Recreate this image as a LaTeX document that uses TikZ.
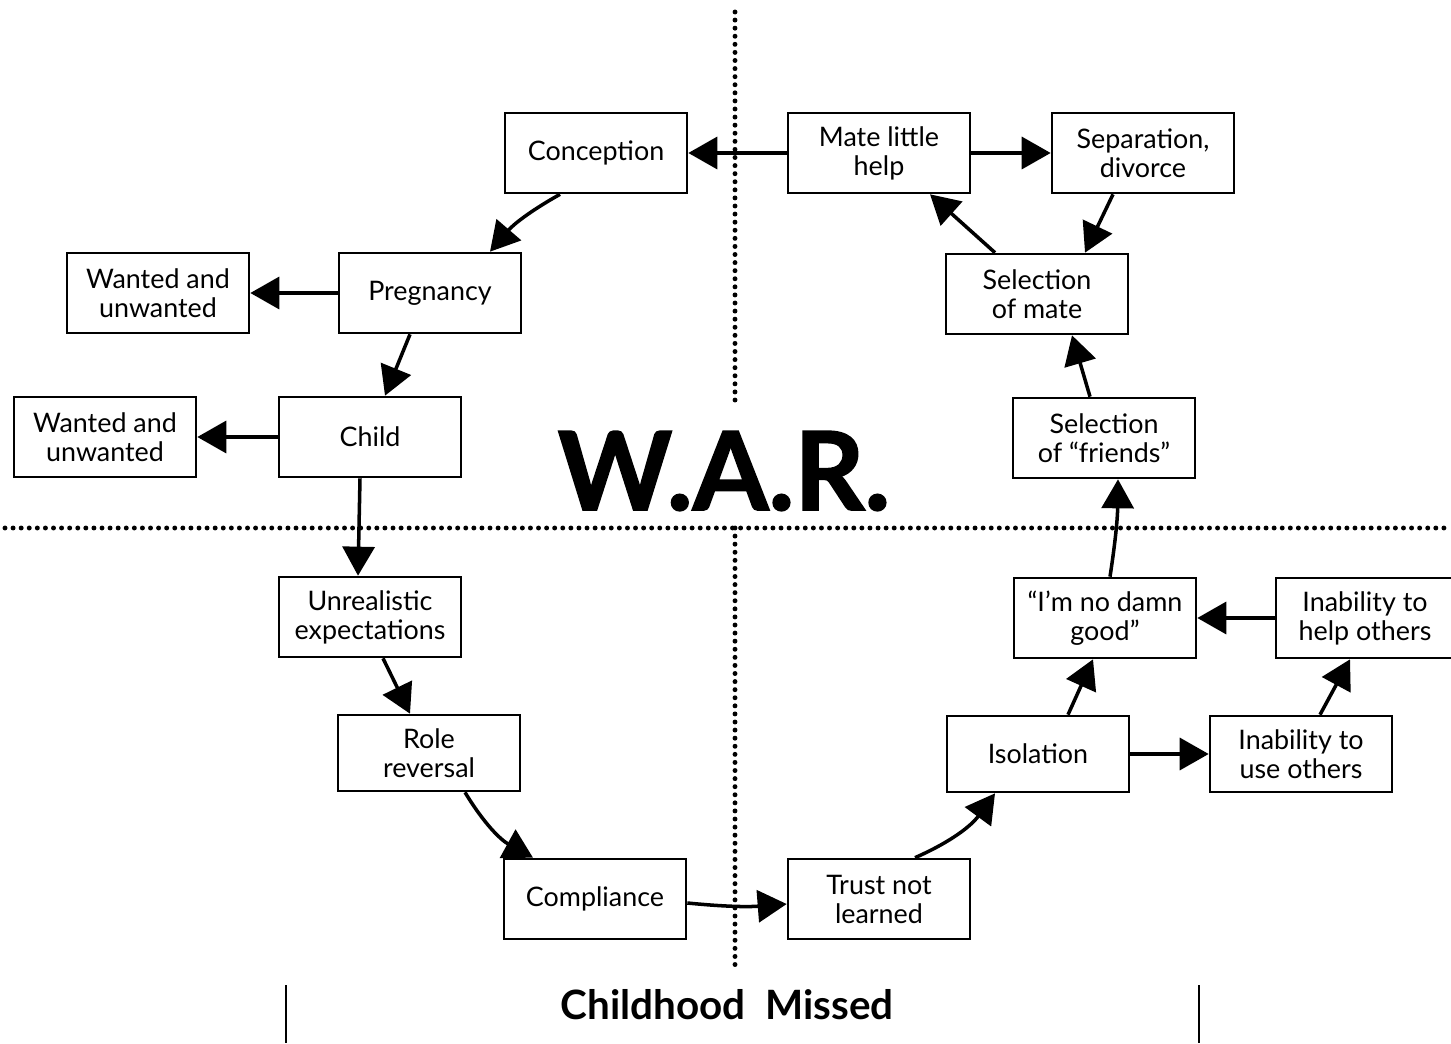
\documentclass[tikz,border=0pt]{standalone}
\usepackage{tikz}
\usetikzlibrary{arrows.meta, positioning}
\usepackage{xcolor}
\usepackage{fontspec}
\setmainfont{Lato}
\newfontfamily\warfont[BoldFeatures={FakeBold=1.6}]{Lato}
\definecolor{inkblack}{RGB}{0, 0, 0}

\begin{document}
\begin{tikzpicture}[
    box/.style={rectangle, draw=inkblack, minimum width=3.64cm, minimum height=1.6cm, align=center, font=\fontsize{15.3}{16.5}\selectfont, line width=1.5pt, inner sep=2pt},
    arrow/.style={-{Triangle[length=5.8mm, width=6.4mm]}, line width=2pt, color=inkblack},
    dotline/.style={line width=2.8pt, line cap=round, dash pattern=on 0pt off 4.6pt, color=inkblack},
]
\useasboundingbox (0, 0) rectangle (29.02, 20.86);

% Dividers
\draw[dotline] (14.70, 20.62) -- (14.70, 12.70);
\draw[dotline] (14.70, 10.30) -- (14.70, 1.56);
\draw[dotline] (0.10, 10.30) -- (29.00, 10.30);

% Title
\node[font=\warfont\fontsize{62}{62}\selectfont\bfseries, inner sep=0pt, anchor=base] (war) at (14.48, 10.66) {W.A.R.};

% Upper left
\node[box] (conception) at (11.92, 17.80) {Conception};
\node[box] (pregnancy) at (8.60, 15.00) {Pregnancy};
\node[box] (wantedA) at (3.16, 15.00) {Wanted and\\unwanted};
\node[box] (child) at (7.40, 12.12) {Child};
\node[box] (wantedB) at (2.10, 12.12) {Wanted and\\unwanted};

% Upper right
\node[box] (mate) at (17.58, 17.80) {Mate little\\help};
\node[box] (separation) at (22.86, 17.80) {Separation,\\divorce};
\node[box] (selmate) at (20.74, 14.98) {Selection\\of mate};
\node[box] (friends) at (22.08, 12.10) {Selection\\of ``friends''};

% Lower left
\node[box] (unreal) at (7.40, 8.52) {Unrealistic\\expectations};
\node[box, minimum height=1.52cm] (role) at (8.58, 5.80) {Role\\reversal};
\node[box] (compliance) at (11.90, 2.88) {Compliance};

% Lower right
\node[box] (trust) at (17.58, 2.88) {Trust not\\learned};
\node[box, minimum height=1.52cm] (isolation) at (20.76, 5.78) {Isolation};
\node[box, minimum height=1.52cm] (useothers) at (26.02, 5.78) {Inability to\\use others};
\node[box] (damngood) at (22.10, 8.50) {``I'm no damn\\good''};
\node[box, minimum width=3.56cm] (helpothers) at (27.30, 8.50) {Inability to\\help others};

% Footer
\node[font=\fontsize{23}{23}\selectfont\bfseries] (missed) at (14.54, 0.76) {Childhood\ \ Missed};
\draw[line width=1.3pt] (5.72, 1.16) -- (5.72, 0);
\draw[line width=1.3pt] (23.98, 1.16) -- (23.98, 0);

% Cycle
\draw[arrow] ([xshift=-0.72cm]conception.south) to[bend right=10] ([xshift=1.2cm]pregnancy.north);
\draw[arrow] ([xshift=-0.4cm]pregnancy.south) -- ([xshift=0.3cm]child.north);
\draw[arrow] (pregnancy.west) -- (wantedA.east);
\draw[arrow] (child.west) -- (wantedB.east);
\draw[arrow] ([xshift=-0.2cm]child.south) -- ([xshift=-0.24cm]unreal.north);
\draw[arrow] ([xshift=0.26cm]unreal.south) -- ([xshift=-0.38cm]role.north);
\draw[arrow] ([xshift=0.72cm]role.south) to[bend right=15] ([xshift=-1.24cm]compliance.north);
\draw[arrow] ([yshift=-0.08cm]compliance.east) to[bend right=5] ([yshift=-0.1cm]trust.west);
\draw[arrow] ([xshift=0.72cm]trust.north) to[bend right=15] ([xshift=-0.86cm]isolation.south);
\draw[arrow] ([xshift=0.6cm]isolation.north) -- ([xshift=-0.24cm]damngood.south);
\draw[arrow] (isolation.east) -- (useothers.west);
\draw[arrow] ([xshift=0.38cm]useothers.north) -- ([xshift=-0.3cm]helpothers.south);
\draw[arrow] (helpothers.west) -- (damngood.east);
\draw[arrow] ([xshift=0.1cm]damngood.north) to[bend right=4] ([xshift=0.28cm]friends.south);
\draw[arrow] ([xshift=-0.28cm]friends.north) -- ([xshift=0.7cm]selmate.south);
\draw[arrow] ([xshift=-0.84cm]selmate.north) -- ([xshift=1.02cm]mate.south);
\draw[arrow] ([xshift=-0.6cm]separation.south) -- ([xshift=0.96cm]selmate.north);
\draw[arrow] (mate.west) -- (conception.east);
\draw[arrow] (mate.east) -- (separation.west);

\end{tikzpicture}
\end{document}
